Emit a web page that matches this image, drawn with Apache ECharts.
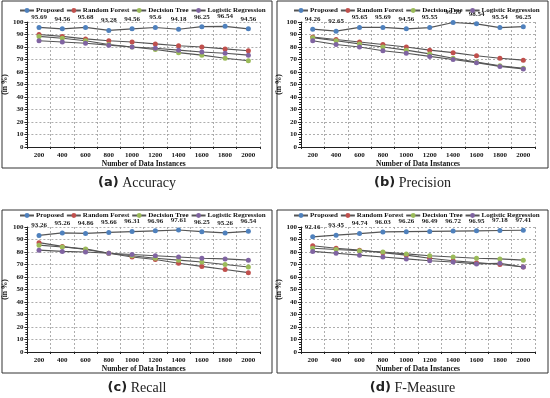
<!DOCTYPE html>
<html><head><meta charset="utf-8">
<script src="https://cdn.jsdelivr.net/npm/echarts@6/dist/echarts.min.js"></script>
<style>html,body{margin:0;padding:0;background:#fff}#c{width:550px;height:398px}</style>
</head><body><div id="c"></div>
<script>
var categories = ['200','400','600','800','1000','1200','1400','1600','1800','2000'];
var seriesNames = ['Proposed','Random Forest','Decision Tree','Logistic Regression'];
var panelTitles = ['(a)','(b)','(c)','(d)'];
var panelNames = ['Accuracy','Precision','Recall','F-Measure'];
var yTicks = [0,10,20,30,40,50,60,70,80,90,100];

var accProposed = [95.69,94.56,95.68,93.28,94.56,95.6,94.18,96.25,96.54,94.56];
var accRF = [90,88.5,86.5,85,84,82.5,81,80,78.5,77];
var accDT = [88.5,87,85,82,80,78,75.5,73.5,71,69];
var accLR = [85,84,83,81.5,80,79,77.5,76,75,73.5];

var preProposed = [94.26,92.65,95.65,95.69,94.56,95.55,99.59,98.54,95.54,96.25];
var preRF = [88,86,84,82,80,77.5,75.5,73,71,69.5];
var preDT = [87.5,85,82.5,80,77.5,74.5,71,68,65,63];
var preLR = [85,82,80,77,75,72.5,70,67.5,64.5,62.5];

var recProposed = [93.26,95.26,94.86,95.66,96.31,96.96,97.61,96.25,95.26,96.54];
var recRF = [87.5,84.5,82,79,76,74,71,68.5,66,63.5];
var recDT = [85.5,84,82.5,79,77,75,73.5,72,70,68];
var recLR = [81.5,80.5,80,79,78,77,76,75,74.5,73.5];

var fmProposed = [92.16,93.45,94.74,96.03,96.26,96.49,96.72,96.95,97.18,97.41];
var fmRF = [85,83,81.5,79.5,77.5,75,73,71.5,70,68];
var fmDT = [83,82,81,80,78.5,77,76,75,74.5,73.5];
var fmLR = [80.5,79,77.5,76,74.5,73,72,70.5,71,68];

var panelData = [
  [accProposed,accRF,accDT,accLR],
  [preProposed,preRF,preDT,preLR],
  [recProposed,recRF,recDT,recLR],
  [fmProposed,fmRF,fmDT,fmLR]
];

var colors = ['#4F81BD','#C0504D','#9BBB59','#8064A2'];
var serif = 'Liberation Serif';
var grids = [
  {left:26, top:22, width:234, height:125},
  {left:301, top:22, width:234, height:125},
  {left:26, top:227, width:234, height:125},
  {left:301, top:227, width:234, height:125}
];
var boxes = [
  {x:2,y:1,w:270,h:167},
  {x:277,y:1,w:271,h:167},
  {x:2,y:210,w:270,h:163},
  {x:277,y:210,w:271,h:163}
];
var legendTops = [5,5,210,210];
var legendLefts = [19,293,19,293];
var captionY = [183,183,388,388];

var option = {animation:false, grid:[], xAxis:[], yAxis:[], series:[], legend:[], graphic:[]};
for (var p=0;p<4;p++){
  option.grid.push(grids[p]);
  option.xAxis.push({
    type:'category', gridIndex:p, data:categories, boundaryGap:true,
    name:'Number of Data Instances', nameLocation:'middle', nameGap:13,
    nameTextStyle:{fontFamily:serif,fontWeight:'bold',fontSize:7.5,color:'#111'},
    axisLine:{lineStyle:{color:'#222',width:1}},
    axisTick:{show:true,length:2,lineStyle:{color:'#222'}},
    axisLabel:{fontFamily:serif,fontWeight:'bold',fontSize:7,color:'#111',margin:5},
    splitLine:{show:true,lineStyle:{color:'#999',type:[2,2],width:0.8}}
  });
  option.yAxis.push({
    type:'value', gridIndex:p, min:0, max:100, interval:10,
    name:'(in %)', nameLocation:'middle', nameGap:17, nameRotate:90,
    nameTextStyle:{fontFamily:serif,fontWeight:'bold',fontSize:7.5,color:'#111'},
    axisLine:{show:true,lineStyle:{color:'#222',width:1}},
    axisTick:{show:true,length:3,lineStyle:{color:'#222'}},
    minorTick:{show:true,splitNumber:5,length:2,lineStyle:{color:'#222'}},
    axisLabel:{fontFamily:serif,fontWeight:'bold',fontSize:7,color:'#111',margin:4},
    splitLine:{show:true,lineStyle:{color:'#999',type:[2,2],width:0.8}}
  });
  option.legend.push({
    left:legendLefts[p], top:legendTops[p], width:320, itemWidth:14, itemHeight:6, itemGap:2,
    data:seriesNames, selectedMode:false, padding:[2,0,2,0],
    textStyle:{fontFamily:serif,fontWeight:'bold',fontSize:7,color:'#111',padding:[0,0,0,-3]}
  });
  for (var s=0;s<4;s++){
    var ser = {
      type:'line', name:seriesNames[s], xAxisIndex:p, yAxisIndex:p,
      data:panelData[p][s], symbol:'circle', symbolSize:5,
      itemStyle:{color:colors[s]},
      lineStyle:{color:'#555',width:1.2}
    };
    if (s===0){
      ser.label = {show:true, position:'top', distance:4, fontFamily:serif, fontWeight:'bold', fontSize:7, color:'#222'};
    }
    option.series.push(ser);
  }
  var b = boxes[p];
  option.graphic.push({type:'rect', shape:{x:b.x,y:b.y,width:b.w,height:b.h}, style:{fill:'none',stroke:'#333',lineWidth:1}, silent:true, z:-1});
  option.graphic.push({type:'text', x:b.x+b.w/2, y:captionY[p],
    style:{text:'{b|'+panelTitles[p]+'} '+panelNames[p], textAlign:'center', textVerticalAlign:'middle',
      font:'14px "Liberation Serif"', fill:'#222',
      rich:{b:{fontFamily:'DejaVu Sans',fontWeight:'bold',fontSize:13,fill:'#222'}}}});
}
var chart = echarts.init(document.getElementById('c'));
chart.setOption(option);
</script>
</body></html>
